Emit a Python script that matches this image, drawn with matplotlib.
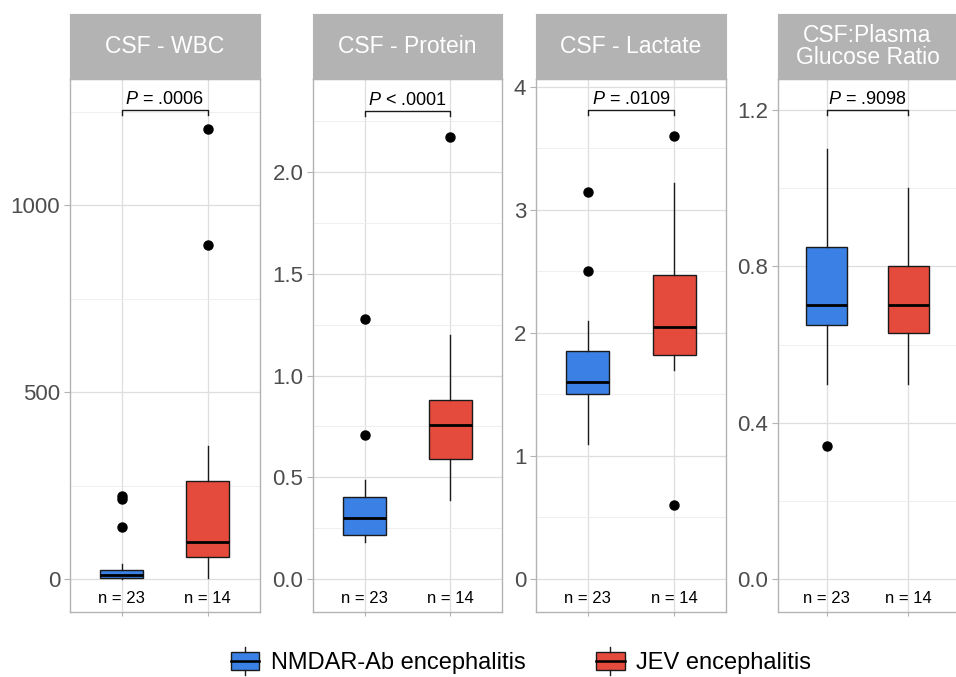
import matplotlib
matplotlib.use("Agg")
import matplotlib.pyplot as plt
from matplotlib.patches import Rectangle
from matplotlib.lines import Line2D
from matplotlib.legend_handler import HandlerBase

plt.rcParams['font.family'] = ['Liberation Sans', 'DejaVu Sans']
plt.rcParams['mathtext.fontset'] = 'custom'
plt.rcParams['mathtext.it'] = 'Liberation Sans:italic'
plt.rcParams['mathtext.rm'] = 'Liberation Sans'

# ---------------- data ----------------
panel_titles = ["CSF - WBC", "CSF - Protein", "CSF - Lactate", "CSF:Plasma\nGlucose Ratio"]
groups = ["NMDAR-Ab encephalitis", "JEV encephalitis"]
n_labels = ["n = 23", "n = 14"]
p_labels = ["$\\it{P}$ = .0006", "$\\it{P}$ < .0001", "$\\it{P}$ = .0109", "$\\it{P}$ = .9098"]
bracket_y = [1254, 2.30, 3.81, 1.20]

# box statistics: [NMDAR, JEV] per panel
wbc_q1 = [2, 59]; wbc_med = [10, 99]; wbc_q3 = [24, 262]
wbc_lo = [0, 2]; wbc_hi = [40, 356]
wbc_fliers = [[139, 215, 222], [893, 1203]]

prot_q1 = [0.216, 0.59]; prot_med = [0.30, 0.755]; prot_q3 = [0.403, 0.88]
prot_lo = [0.18, 0.39]; prot_hi = [0.486, 1.20]
prot_fliers = [[0.71, 1.28], [2.17]]

lac_q1 = [1.50, 1.82]; lac_med = [1.60, 2.05]; lac_q3 = [1.85, 2.47]
lac_lo = [1.10, 1.70]; lac_hi = [2.10, 3.22]
lac_fliers = [[2.50, 3.15], [3.60, 0.60]]

glu_q1 = [0.65, 0.63]; glu_med = [0.70, 0.70]; glu_q3 = [0.85, 0.80]
glu_lo = [0.50, 0.50]; glu_hi = [1.10, 1.00]
glu_fliers = [[0.34], []]

y_ticks = [[0, 500, 1000], [0.0, 0.5, 1.0, 1.5, 2.0], [0, 1, 2, 3, 4], [0.0, 0.4, 0.8, 1.2]]
y_ticklabels = [["0", "500", "1000"], ["0.0", "0.5", "1.0", "1.5", "2.0"],
                ["0", "1", "2", "3", "4"], ["0.0", "0.4", "0.8", "1.2"]]
y_minor = [[250, 750, 1250], [0.25, 0.75, 1.25, 1.75, 2.25],
           [0.5, 1.5, 2.5, 3.5], [0.2, 0.6, 1.0]]
y_limits = [(-88, 1337), (-0.162, 2.457), (-0.27, 4.065), (-0.084, 1.279)]

colors = ["#3B80E4", "#E54B3C"]

stats_all = [
    (wbc_q1, wbc_med, wbc_q3, wbc_lo, wbc_hi, wbc_fliers),
    (prot_q1, prot_med, prot_q3, prot_lo, prot_hi, prot_fliers),
    (lac_q1, lac_med, lac_q3, lac_lo, lac_hi, lac_fliers),
    (glu_q1, glu_med, glu_q3, glu_lo, glu_hi, glu_fliers),
]

# ---------------- layout (pixels) ----------------
W, H = 956, 677
fig = plt.figure(figsize=(W / 100, H / 100), dpi=100)
panel_x = [(70, 259.5), (313, 502), (536, 726), (778, 957)]
panel_top, panel_bot = 79, 612
strip_top = 14

grey70 = "#B3B3B3"

for i, (x0, x1) in enumerate(panel_x):
    ax = fig.add_axes([x0 / W, (H - panel_bot) / H, (x1 - x0) / W, (panel_bot - panel_top) / H])
    q1, med, q3, lo, hi, fl = stats_all[i]
    bstats = []
    for g in range(2):
        bstats.append(dict(q1=q1[g], med=med[g], q3=q3[g], whislo=lo[g], whishi=hi[g],
                           fliers=fl[g], label=n_labels[g]))
    bp = ax.bxp(bstats, positions=[1, 2], widths=0.5, patch_artist=True, showcaps=False,
                boxprops=dict(linewidth=1.0, edgecolor="#1a1a1a"),
                medianprops=dict(color="black", linewidth=2.0),
                whiskerprops=dict(color="#1a1a1a", linewidth=1.0),
                flierprops=dict(marker="o", markerfacecolor="black", markeredgecolor="black",
                                markersize=6.5, linestyle="none"))
    for patch, c in zip(bp["boxes"], colors):
        patch.set_facecolor(c)
    for art in bp["boxes"] + bp["medians"] + bp["whiskers"] + bp["fliers"]:
        art.set_zorder(3)

    ax.set_xlim(0.4, 2.6)
    ax.set_ylim(*y_limits[i])
    ax.set_yticks(y_ticks[i])
    ax.set_yticklabels(y_ticklabels[i])
    ax.set_yticks(y_minor[i], minor=True)
    ax.set_xticks([1, 2])
    ax.set_xticklabels(["", ""])
    ax.tick_params(axis="y", which="major", length=4, width=0.8, color=grey70,
                   labelsize=16, labelcolor="#4D4D4D", pad=3)
    ax.tick_params(axis="y", which="minor", length=0)
    ax.tick_params(axis="x", length=3, width=0.8, color=grey70)
    ax.grid(True, which="major", color="#DEDEDE", linewidth=0.9, zorder=0)
    ax.grid(True, which="minor", axis="y", color="#EDEDED", linewidth=0.6, zorder=0)
    ax.set_axisbelow(True)
    for s in ax.spines.values():
        s.set_color(grey70)
        s.set_linewidth(1.0)

    # n labels inside panel bottom
    for g in range(2):
        ax.text(g + 1, 0.026, n_labels[g], transform=ax.get_xaxis_transform(),
                ha="center", va="center", fontsize=12, color="black")

    # significance bracket
    ylo, yhi = y_limits[i]
    px = (yhi - ylo) / (panel_bot - panel_top)
    by = bracket_y[i]
    ax.plot([1, 1, 2, 2], [by - 5 * px, by, by, by - 5 * px], color="#1a1a1a", linewidth=1.0,
            zorder=4, clip_on=False)
    ax.text(1.5, by + 2 * px, p_labels[i], ha="center", va="bottom", fontsize=13, color="black")

    # strip
    sax = fig.add_axes([x0 / W, (H - panel_top) / H, (x1 - x0) / W, (panel_top - strip_top) / H])
    sax.set_facecolor(grey70)
    sax.set_xticks([]); sax.set_yticks([])
    for s in sax.spines.values():
        s.set_color(grey70)
    sax.text(0.5, 0.5, panel_titles[i], ha="center", va="center", color="white",
             fontsize=16.5, linespacing=0.92, transform=sax.transAxes)


class BoxHandler(HandlerBase):
    def create_artists(self, legend, orig_handle, xdescent, ydescent, width, height, fontsize, trans):
        c = orig_handle.get_facecolor()
        bh = height * 1.1
        y0 = -ydescent + (height - bh) / 2
        rect = Rectangle((-xdescent, y0), width, bh, facecolor=c, edgecolor="#1a1a1a",
                         linewidth=1.0, transform=trans)
        mid = Line2D([-xdescent, -xdescent + width], [y0 + bh / 2] * 2, color="black",
                     linewidth=1.8, transform=trans)
        xm = -xdescent + width / 2
        wt = Line2D([xm, xm], [y0 + bh, y0 + bh + height * 0.3], color="#1a1a1a",
                    linewidth=1.0, transform=trans)
        wb = Line2D([xm, xm], [y0, y0 - height * 0.3], color="#1a1a1a",
                    linewidth=1.0, transform=trans)
        return [rect, mid, wt, wb]


handles = [Rectangle((0, 0), 1, 1, facecolor=c) for c in colors]
fig.legend(handles, groups, handler_map={Rectangle: BoxHandler()}, loc="center",
           bbox_to_anchor=(0.545, (H - 663) / H), ncol=2, frameon=False, fontsize=17,
           handlelength=1.2, handletextpad=0.5, columnspacing=3.0, borderpad=0.2)

fig.savefig("out.png", dpi=100)
